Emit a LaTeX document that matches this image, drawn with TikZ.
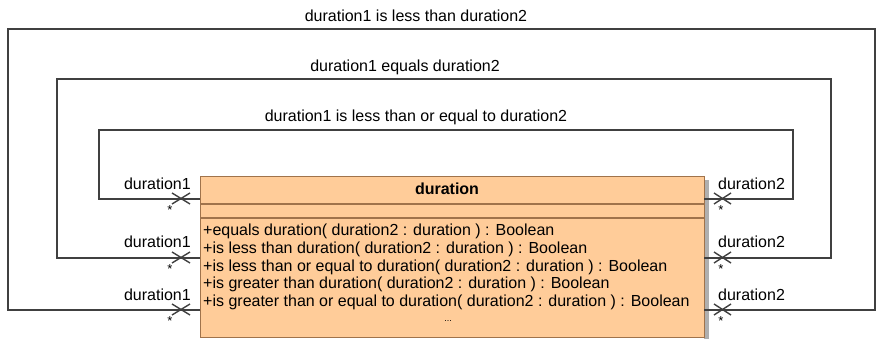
\documentclass[tikz,border=0pt]{standalone}
\usepackage{fontspec}
\setmainfont{Liberation Sans}
\definecolor{umlfill}{RGB}{255,204,153}
\definecolor{umlborder}{RGB}{160,115,75}
\definecolor{shadowgray}{RGB}{175,175,175}
\definecolor{linegray}{RGB}{64,64,64}
\begin{document}
\begin{tikzpicture}[x=1pt,y=-1pt,
  font=\fontsize{16}{18}\selectfont,
  conn/.style={draw=linegray, line width=1.4pt},
  lbl/.style={inner sep=0pt, text=black},
  oplbl/.style={inner sep=0pt, anchor=west, text=black},
  mult/.style={inner sep=0pt, font=\fontsize{13}{13}\selectfont}]
\useasboundingbox (0,0) rectangle (876,339);
% shadow
\fill[shadowgray] (704,180) rectangle (709,339);
% class box
\node[draw=umlborder, fill=umlfill, line width=1.2pt, inner sep=0pt,
      minimum width=504pt, minimum height=161pt, anchor=north west] (cls) at (200,176) {};
\draw[umlborder, line width=1.2pt] (200,204) -- (704,204);
\draw[umlborder, line width=1.2pt] (200,218) -- (704,218);
\node[lbl, font=\fontsize{16}{18}\selectfont\bfseries] (title) at (447,189) {duration};
\node[oplbl] (op1) at (203,231) {+equals duration( duration2 : duration ) : Boolean};
\node[oplbl] (op2) at (203,249) {+is less than duration( duration2 : duration ) : Boolean};
\node[oplbl] (op3) at (203,267) {+is less than or equal to duration( duration2 : duration ) : Boolean};
\node[oplbl] (op4) at (203,284) {+is greater than duration( duration2 : duration ) : Boolean};
\node[oplbl] (op5) at (203,302) {+is greater than or equal to duration( duration2 : duration ) : Boolean};
\node[lbl, font=\fontsize{9}{9}\selectfont] (more) at (448,321) {...};
% attachment points
\coordinate (L1) at (200,199); \coordinate (R1) at (704,199);
\coordinate (L2) at (200,258); \coordinate (R2) at (704,258);
\coordinate (L3) at (200,310); \coordinate (R3) at (704,310);
% loops
\draw[conn] (L1) -- (99,199) -- (99,130) -- (793,130) -- (793,199) -- (R1);
\draw[conn] (L2) -- (57,258) -- (57,79) -- (831,79) -- (831,258) -- (R2);
\draw[conn] (L3) -- (8,310) -- (8,29) -- (875,29) -- (875,310) -- (R3);
% association names
\node[lbl] (n1) at (416,16) {duration1 is less than duration2};
\node[lbl] (n2) at (405,67) {duration1 equals duration2};
\node[lbl] (n3) at (416,117) {duration1 is less than or equal to duration2};
% end markers (X) and labels
\foreach \y/\k in {199/1,258/2,310/3}{
  \draw[conn] (172,\y-6) -- (190,\y+5);
  \draw[conn] (172,\y+5) -- (190,\y-6);
  \draw[conn] (714,\y-6) -- (731,\y+5);
  \draw[conn] (714,\y+5) -- (731,\y-6);
}
\node[lbl, anchor=east] (e1) at (191,184) {duration1};
\node[lbl, anchor=east] (e2) at (191,242) {duration1};
\node[lbl, anchor=east] (e3) at (191,295) {duration1};
\node[lbl, anchor=west] (f1) at (718,184) {duration2};
\node[lbl, anchor=west] (f2) at (718,242) {duration2};
\node[lbl, anchor=west] (f3) at (718,295) {duration2};
\node[mult] (m1) at (170,210) {*};
\node[mult] (m2) at (170,269) {*};
\node[mult] (m3) at (170,321) {*};
\node[mult] (k1) at (721,210) {*};
\node[mult] (k2) at (721,269) {*};
\node[mult] (k3) at (721,321) {*};
\end{tikzpicture}
\end{document}
